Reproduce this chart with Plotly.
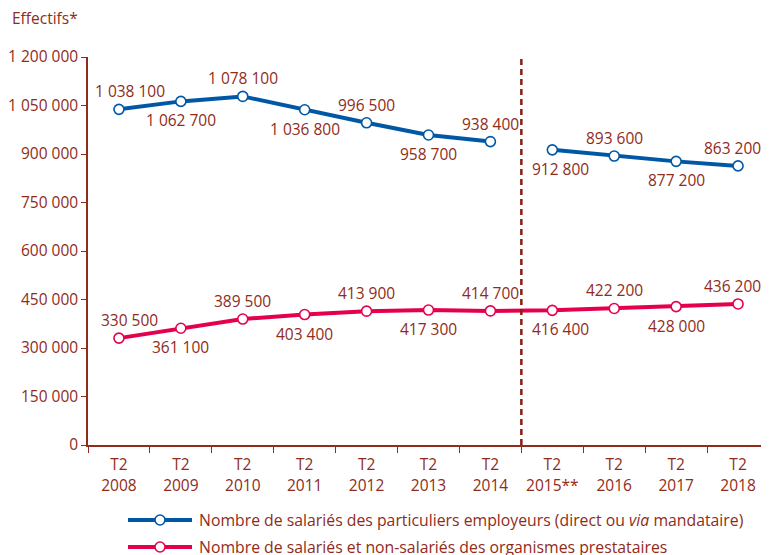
import plotly.graph_objects as go

periods = ["T2<br>2008", "T2<br>2009", "T2<br>2010", "T2<br>2011", "T2<br>2012", "T2<br>2013",
           "T2<br>2014", "T2<br>2015**", "T2<br>2016", "T2<br>2017", "T2<br>2018"]
particuliers = [1038100, 1062700, 1078100, 1036800, 996500, 958700, 938400,
                912800, 893600, 877200, 863200]
organismes = [330500, 361100, 389500, 403400, 413900, 417300, 414700,
              416400, 422200, 428000, 436200]
name_part = "Nombre de salariés des particuliers employeurs (direct ou <i>via</i> mandataire)"
name_org = "Nombre de salariés et non-salariés des organismes prestataires"
y_ticks = [0, 150000, 300000, 450000, 600000, 750000, 900000, 1050000, 1200000]
break_index = 7  # series break (T2 2015**)

BLUE = "#0057A6"
PINK = "#E5004F"
TXT = "#8F2C1A"
FONT = "Open Sans"
FS = 15.5

# page body has an 8px margin: figure is 761x547, placed at (8, 8)
W, H = 761, 547
L, T, B, R = 80, 49, 110, 0
PW, PH = W - L - R, H - T - B

def fmt(v):
    return f"{v:,}".replace(",", " ")

fig = go.Figure()
marker = lambda c: dict(size=10, color="white", line=dict(color=c, width=1.6))

fig.add_trace(go.Scatter(x=periods[:break_index], y=particuliers[:break_index], mode="lines+markers",
                         line=dict(color=BLUE, width=4), marker=marker(BLUE), showlegend=False))
fig.add_trace(go.Scatter(x=periods[break_index:], y=particuliers[break_index:], mode="lines+markers",
                         line=dict(color=BLUE, width=4), marker=marker(BLUE), showlegend=False))
fig.add_trace(go.Scatter(x=periods, y=organismes, mode="lines+markers",
                         line=dict(color=PINK, width=4), marker=marker(PINK), showlegend=False))

xshifts = {0: 11, 7: 8, 10: -6}
for series in (particuliers, organismes):
    for i, (p, v) in enumerate(zip(periods, series)):
        above = (i % 2 == 0)
        fig.add_annotation(x=p, y=v, text=fmt(v), showarrow=False,
                           yshift=18 if above else -19,
                           xshift=xshifts.get(i, 0),
                           font=dict(family=FONT, size=FS, color=TXT))

# vertical break line
fig.add_shape(type="line", xref="x", yref="y", x0=6.5, x1=6.5, y0=0, y1=1200000,
              line=dict(color="#8B1E12", width=2.5, dash="6px,4px"))

# legend drawn in paper coordinates
for k, (name, col) in enumerate([(name_part, BLUE), (name_org, PINK)]):
    ypix = 512 + 27 * k
    yp = (H - B - ypix) / PH
    x0 = (120 - L) / PW
    x1 = (184 - L) / PW
    fig.add_shape(type="line", xref="paper", yref="paper", x0=x0, x1=x1, y0=yp, y1=yp,
                  line=dict(color=col, width=4))
    xc = (152 - L) / PW
    fig.add_shape(type="circle", xref="paper", yref="paper",
                  x0=xc - 5 / PW, x1=xc + 5 / PW, y0=yp - 5 / PH, y1=yp + 5 / PH,
                  fillcolor="white", line=dict(color=col, width=1.6))
    fig.add_annotation(xref="paper", yref="paper", x=(189 - L) / PW, y=yp, text=name,
                       showarrow=False, xanchor="left", yanchor="middle",
                       font=dict(family=FONT, size=15.8, color=TXT))

fig.add_annotation(xref="paper", yref="paper", x=(2 - L) / PW, y=(H - B - 10) / PH, text="Effectifs*",
                   showarrow=False, xanchor="left", yanchor="middle",
                   font=dict(family=FONT, size=FS, color=TXT))

fig.update_layout(
    width=W, height=H,
    margin=dict(l=L, r=R, t=T, b=B, autoexpand=False),
    paper_bgcolor="white", plot_bgcolor="white",
    font=dict(family=FONT, size=FS, color=TXT),
    showlegend=False,
)
fig.update_xaxes(type="category", showgrid=False, showline=True, linecolor=TXT, linewidth=1.5,
                 ticks="outside", tickson="boundaries", ticklen=6, tickcolor=TXT,
                 ticklabelstandoff=5, tickangle=0,
                 tickfont=dict(family=FONT, size=FS, color=TXT), range=[-0.5, 10.5], zeroline=False)
fig.update_yaxes(range=[0, 1200000], tickvals=y_ticks, ticktext=[fmt(v) for v in y_ticks],
                 showgrid=False, showline=True, linecolor=TXT, linewidth=1.5,
                 ticks="outside", ticklen=5, tickcolor=TXT, zeroline=False,
                 tickfont=dict(family=FONT, size=FS, color=TXT))

fig.write_html("out.html")
